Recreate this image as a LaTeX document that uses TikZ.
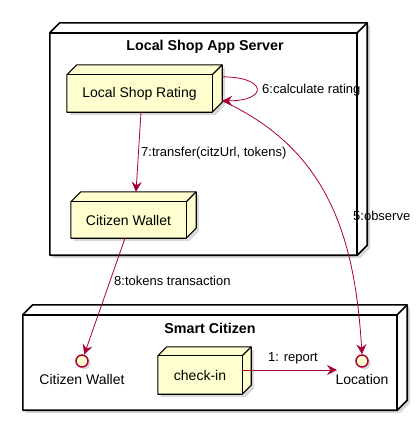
\documentclass[tikz,border=0pt]{standalone}
\usepackage{fontspec}
\setmainfont{Liberation Sans}
\usetikzlibrary{arrows.meta,calc,backgrounds}
\definecolor{umlred}{HTML}{A80036}
\definecolor{umlfill}{HTML}{FEFECE}
\tikzset{
  boxnode/.style={draw=none, inner sep=0pt, font=\fontsize{14}{16}\selectfont},
  title/.style={font=\bfseries\fontsize{14.3}{16}\selectfont, inner sep=0pt},
  lbl/.style={font=\fontsize{13}{15}\selectfont, inner sep=0pt, anchor=west},
  conn/.style={draw=umlred, line width=0.8pt, -{Stealth[length=10pt,width=10pt,inset=3.5pt]}},
  iface/.style={circle, draw=umlred, fill=umlfill, line width=1.5pt, minimum size=12pt, inner sep=0pt},
  ilbl/.style={font=\fontsize{14}{16}\selectfont, inner sep=0pt},
}
% draw the 3D box behind a node: #1 name, #2 depth, #3 fill, #4 line width
\newcommand{\depthfaces}[4]{%
  \begin{scope}[on background layer]
  \fill[black!15] ($(#1.north west)+(3,3)$) -- ($(#1.south west)+(3,3)$) -- ($(#1.south east)+(3,3)$) -- ($(#1.south east)+(#2+3,-#2+3)$) -- ($(#1.north east)+(#2+3,-#2+3)$) -- cycle;
  \filldraw[fill=#3, draw=black, line width=#4, line join=round]
    (#1.north west) -- ++(#2,-#2) -- ($(#1.north east)+(#2,-#2)$) -- ($(#1.south east)+(#2,-#2)$) -- (#1.south east) -- (#1.south west) -- cycle;
  \draw[line width=#4, line join=round] (#1.north west) -- (#1.north east) -- (#1.south east);
  \draw[line width=#4] (#1.north east) -- ++(#2,-#2);
  \end{scope}
}
\begin{document}
\begin{tikzpicture}[x=1pt,y=-1pt]
\useasboundingbox (0,0) rectangle (419,421);
% outer nodes
\node[boxnode, minimum width=307pt, minimum height=222pt] (srv) at (203.5,144) {};
\depthfaces{srv}{10}{white}{1.6pt}
\node[title] (srvtitle) at (205,47) {Local Shop App Server};

\node[boxnode, minimum width=374pt, minimum height=95pt] (sc) at (210,362.5) {};
\depthfaces{sc}{10}{white}{1.6pt}
\node[title] (sctitle) at (210,328) {Smart Citizen};

% inner nodes
\node[boxnode, minimum width=145pt, minimum height=37pt] (lsr) at (139.5,93.5) {Local Shop Rating};
\depthfaces{lsr}{10}{umlfill}{1.1pt}
\node[boxnode, minimum width=115pt, minimum height=36pt] (cw) at (128.5,220) {Citizen Wallet};
\depthfaces{cw}{10}{umlfill}{1.1pt}
\node[boxnode, minimum width=84pt, minimum height=38pt] (ci) at (200,375) {check-in};
\depthfaces{ci}{9}{umlfill}{1.1pt}

% interfaces
\fill[black!15] (84.5,363.5) circle (6pt);
\node[iface] (ciw) at (82,361) {};
\node[ilbl] (ciwl) at (82,379) {Citizen Wallet};
\fill[black!15] (364.5,363.5) circle (6pt);
\node[iface] (loc) at (362,361) {};
\node[ilbl] (locl) at (362,379) {Location};

% connectors
\coordinate (loopa) at ($(lsr.north east)+(10,2)$);
\coordinate (loopb) at ($(lsr.north east)+(10,26)$);
\draw[conn] (loopa) .. controls (268,77) and (268,101) .. (loopb);
\node[lbl] (l6) at (262,90) {6:calculate rating};

\coordinate (t7a) at ($(lsr.south)+(1.5,0)$);
\coordinate (t7b) at ($(cw.north)+(7.5,-10)$);
\draw[conn] (t7a) -- (t7b);
\node[lbl] (l7) at (141,153) {7:transfer(citzUrl, tokens)};

\coordinate (t8a) at ($(cw.south)+(-3.5,0)$);
\draw[conn] (t8a) -- (ciw);
\node[lbl] (l8) at (114,281) {8:tokens transaction};

\draw[conn] (loopb) .. controls (330,150) and (355,240) .. (loc.north);
\node[lbl] (l5) at (353,216) {5:observe};

\coordinate (rpa) at ($(ci.east)+(0,-5)$);
\coordinate (rpb) at (337,370);
\draw[conn] (rpa) -- (rpb);
\node[lbl, anchor=center] (l1) at (293,358) {1: report};
\end{tikzpicture}
\end{document}
